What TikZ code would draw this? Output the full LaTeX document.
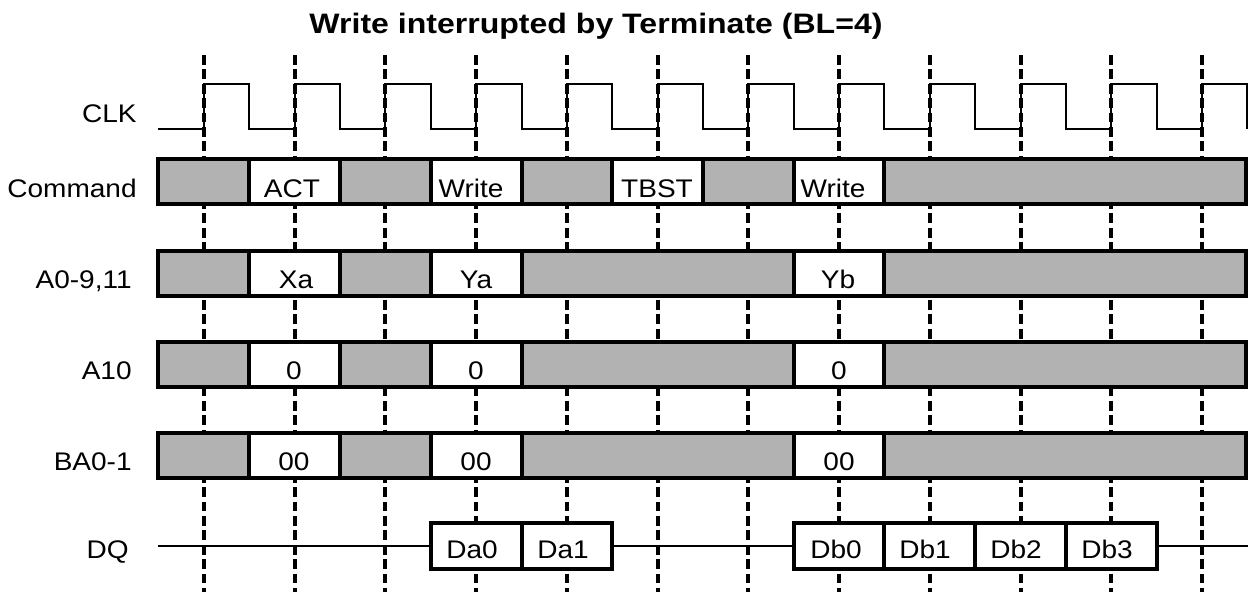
\documentclass[tikz,border=0pt]{standalone}
\usepackage{fontspec}
\setmainfont{Liberation Sans}[FakeStretch=1.1]
\newfontfamily\titlefont{Liberation Sans}[FakeStretch=1.14]
\usetikzlibrary{positioning}

\begin{document}
\begin{tikzpicture}[x=0.02cm,y=-0.02cm,
    edgeline/.style={line width=2pt,dash pattern=on 5.6pt off 2.6pt},
    clkline/.style={line width=1.4pt},
    idlebox/.style={fill=gray!60,draw=black,line width=2.3pt},
    validbox/.style={fill=white,draw=black,line width=2.3pt},
    signame/.style={font=\fontsize{14.5}{17}\selectfont,anchor=base east,inner sep=0pt},
    busval/.style={font=\fontsize{14.5}{17}\selectfont,anchor=base,inner sep=0pt}]
    \useasboundingbox (0,0) rectangle (1248,592);

    \node[anchor=base,inner sep=0pt,font=\titlefont\fontsize{16}{19}\selectfont\bfseries] (title) at (596,33) {Write interrupted by Terminate (BL=4)};

    % clock edges
    \draw[edgeline] (204,55) -- (204,592);
    \draw[edgeline] (295,55) -- (295,592);
    \draw[edgeline] (385,55) -- (385,592);
    \draw[edgeline] (476,55) -- (476,592);
    \draw[edgeline] (567,55) -- (567,592);
    \draw[edgeline] (658,55) -- (658,592);
    \draw[edgeline] (748,55) -- (748,592);
    \draw[edgeline] (839,55) -- (839,592);
    \draw[edgeline] (930,55) -- (930,592);
    \draw[edgeline] (1021,55) -- (1021,592);
    \draw[edgeline] (1111,55) -- (1111,592);
    \draw[edgeline] (1202,55) -- (1202,592);

    % signal names
    \node[signame] (nclk) at (137,122) {CLK};
    \node[signame] (ncmd) at (137,197) {Command};
    \node[signame] (naddr) at (132,288) {A0-9,11};
    \node[signame] (nap) at (132,379) {A10};
    \node[signame] (nba) at (132,470) {BA0-1};
    \node[signame] (ndq) at (129,558) {DQ};

    \draw[clkline] (158,129) -- (204,129) -- (204,84) -- (249,84) -- (249,129)
        -- (295,129) -- (295,84) -- (340,84) -- (340,129)
        -- (385,129) -- (385,84) -- (431,84) -- (431,129)
        -- (476,129) -- (476,84) -- (522,84) -- (522,129)
        -- (567,129) -- (567,84) -- (612,84) -- (612,129)
        -- (658,129) -- (658,84) -- (703,84) -- (703,129)
        -- (748,129) -- (748,84) -- (794,84) -- (794,129)
        -- (839,129) -- (839,84) -- (884,84) -- (884,129)
        -- (930,129) -- (930,84) -- (975,84) -- (975,129)
        -- (1021,129) -- (1021,84) -- (1066,84) -- (1066,129)
        -- (1111,129) -- (1111,84) -- (1157,84) -- (1157,129)
        -- (1202,129) -- (1202,84) -- (1247,84) -- (1247,129);

    % Command
    \draw[idlebox] (158,159) rectangle (249,204);
    \draw[validbox] (249,159) rectangle (340,204);
    \draw[idlebox] (340,159) rectangle (431,204);
    \draw[validbox] (431,159) rectangle (522,204);
    \draw[idlebox] (522,159) rectangle (612,204);
    \draw[validbox] (612,159) rectangle (703,204);
    \draw[idlebox] (703,159) rectangle (794,204);
    \draw[validbox] (794,159) rectangle (884,204);
    \draw[idlebox] (884,159) rectangle (1246,204);
    \node[busval] (act) at (292,197) {ACT};
    \node[busval] (wra) at (471,197) {Write};
    \node[busval] (tbst) at (657,197) {TBST};
    \node[busval] (wrb) at (833,197) {Write};

    % A0-9,11
    \draw[idlebox] (158,251) rectangle (249,296);
    \draw[validbox] (249,251) rectangle (340,296);
    \draw[idlebox] (340,251) rectangle (431,296);
    \draw[validbox] (431,251) rectangle (522,296);
    \draw[idlebox] (522,251) rectangle (794,296);
    \draw[validbox] (794,251) rectangle (884,296);
    \draw[idlebox] (884,251) rectangle (1246,296);
    \node[busval] (xa) at (296,288) {Xa};
    \node[busval] (ya) at (476,288) {Ya};
    \node[busval] (yb) at (838,288) {Yb};

    % A10
    \draw[idlebox] (158,342) rectangle (249,387);
    \draw[validbox] (249,342) rectangle (340,387);
    \draw[idlebox] (340,342) rectangle (431,387);
    \draw[validbox] (431,342) rectangle (522,387);
    \draw[idlebox] (522,342) rectangle (794,387);
    \draw[validbox] (794,342) rectangle (884,387);
    \draw[idlebox] (884,342) rectangle (1246,387);
    \node[busval] (apa) at (294,379) {0};
    \node[busval] (apb) at (476,379) {0};
    \node[busval] (apc) at (839,379) {0};

    % BA0-1
    \draw[idlebox] (158,433) rectangle (249,478);
    \draw[validbox] (249,433) rectangle (340,478);
    \draw[idlebox] (340,433) rectangle (431,478);
    \draw[validbox] (431,433) rectangle (522,478);
    \draw[idlebox] (522,433) rectangle (794,478);
    \draw[validbox] (794,433) rectangle (884,478);
    \draw[idlebox] (884,433) rectangle (1246,478);
    \node[busval] (baa) at (294,470) {00};
    \node[busval] (bab) at (476,470) {00};
    \node[busval] (bac) at (839,470) {00};

    % DQ
    \coordinate (dqs) at (158,546);
    \coordinate (dqa) at (431,546);
    \coordinate (dqb) at (612,546);
    \coordinate (dqc) at (794,546);
    \coordinate (dqd) at (1157,546);
    \coordinate (dqe) at (1248,546);
    \draw[clkline] (dqs) -- (dqa);
    \draw[clkline] (dqb) -- (dqc);
    \draw[clkline] (dqd) -- (dqe);
    \draw[validbox] (431,523) rectangle (522,569);
    \draw[validbox] (522,523) rectangle (612,569);
    \draw[validbox] (794,523) rectangle (884,569);
    \draw[validbox] (884,523) rectangle (975,569);
    \draw[validbox] (975,523) rectangle (1066,569);
    \draw[validbox] (1066,523) rectangle (1157,569);
    \node[busval] (da0) at (472,558) {Da0};
    \node[busval] (da1) at (563,558) {Da1};
    \node[busval] (db0) at (836,558) {Db0};
    \node[busval] (db1) at (925,558) {Db1};
    \node[busval] (db2) at (1016,558) {Db2};
    \node[busval] (db3) at (1107,558) {Db3};
\end{tikzpicture}
\end{document}
